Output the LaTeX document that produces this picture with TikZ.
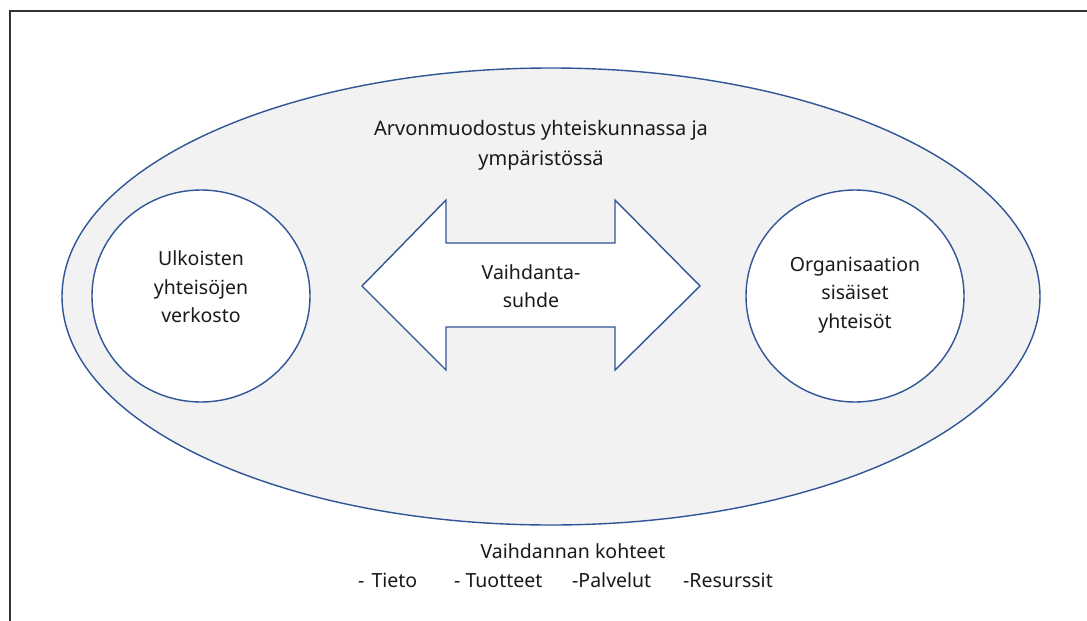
\documentclass[tikz,border=0pt]{standalone}
\usepackage{fontspec}
\setmainfont{Noto Sans}
\usetikzlibrary{shapes.geometric}
\definecolor{edgeblue}{HTML}{2F5597}
\definecolor{fillgray}{HTML}{F2F2F2}
\definecolor{txt}{HTML}{1A1A1A}
\tikzset{
  shapeline/.style={draw=edgeblue, line width=1.4pt},
  lbl/.style={text=txt, font=\fontsize{19.5}{28.5}\selectfont, align=center, inner sep=0pt},
}
\begin{document}
\begin{tikzpicture}[x=1pt,y=-1pt]
\useasboundingbox (0,0) rectangle (1087,621);
\fill[white] (0,0) rectangle (1087,621);
% frame (cropped)
\draw[line width=2pt, draw=black!80] (1087,11) -- (10,11) -- (10,621);
% outer ellipse
\node[shapeline, fill=fillgray, ellipse, minimum width=978pt, minimum height=457pt, inner sep=0pt] (outer) at (551,296.5) {};
\node[lbl, font=\fontsize{20}{30}\selectfont] (title) at (541,145.5) {Arvonmuodostus yhteiskunnassa ja\\ympäristössä};
% circles
\node[shapeline, fill=white, ellipse, minimum width=218pt, minimum height=212pt, inner sep=0pt] (left) at (201,296) {};
\node[shapeline, fill=white, ellipse, minimum width=218pt, minimum height=212pt, inner sep=0pt] (right) at (855,296) {};
\node[lbl] (lefttext) at (201,287) {Ulkoisten\\yhteisöjen\\verkosto};
\node[lbl] (righttext) at (855,295) {Organisaation\\sisäiset\\yhteisöt};
% double arrow
\draw[shapeline, fill=white, line join=miter] (362,286) -- (446,200) -- (446,243) -- (615,243) -- (615,200) -- (700,286) -- (615,370) -- (615,327) -- (446,327) -- (446,370) -- cycle;
\node[lbl] (arrowtext) at (531,286) {Vaihdanta-\\suhde};
% bottom texts
\node[lbl, anchor=base] (objects) at (573,558) {Vaihdannan kohteet};
\node[lbl, anchor=base west] (o1) at (358,587) {- \hspace{2pt}Tieto};
\node[lbl, anchor=base west] (o2) at (454,587) {- Tuotteet};
\node[lbl, anchor=base west] (o3) at (572,587) {-Palvelut};
\node[lbl, anchor=base west] (o4) at (683,587) {-Resurssit};
\end{tikzpicture}
\end{document}
